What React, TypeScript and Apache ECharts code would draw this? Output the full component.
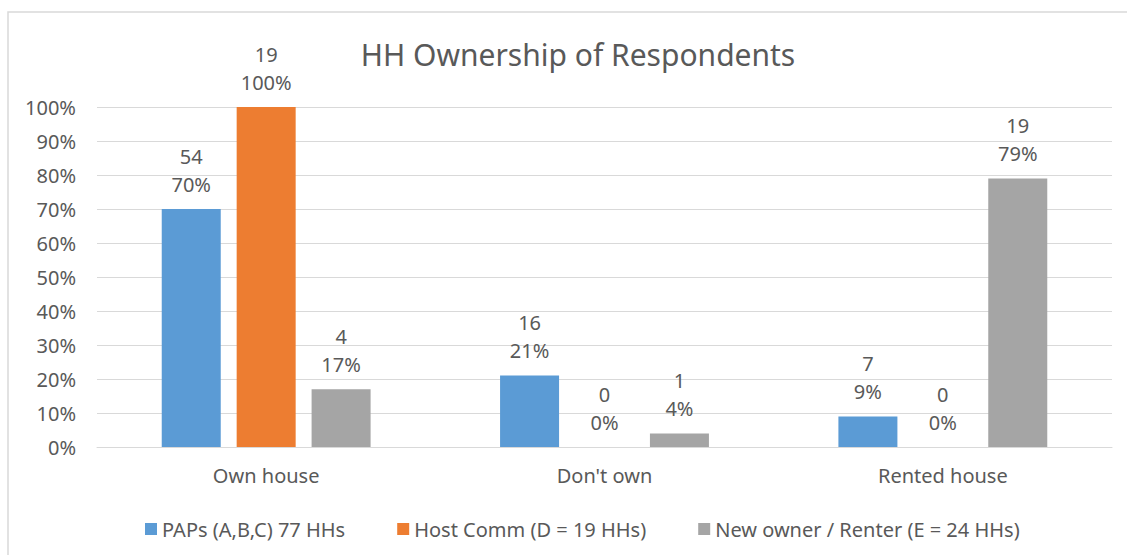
import React, { useEffect, useRef } from "react";
import * as echarts from "echarts";

const categories = ["Own house", "Don't own", "Rented house"];
const seriesNames = [
  "PAPs (A,B,C) 77 HHs",
  "Host Comm (D = 19 HHs)",
  "New owner / Renter (E = 24 HHs)",
];
const papsPct = [70, 21, 9];
const papsCount = [54, 16, 7];
const hostPct = [100, 0, 0];
const hostCount = [19, 0, 0];
const renterPct = [17, 4, 79];
const renterCount = [4, 1, 19];
const colors = ["#5B9BD5", "#ED7D31", "#A5A5A5"];

const FONT = "Noto Sans";
const TEXT = "#595959";

export default function App() {
  const ref = useRef<HTMLDivElement>(null);
  useEffect(() => {
    document.body.style.margin = "0";
    const chart = echarts.init(ref.current!, null, { renderer: "svg" });
    const pcts = [papsPct, hostPct, renterPct];
    const counts = [papsCount, hostCount, renterCount];
    chart.setOption({
      animation: false,
      backgroundColor: "#ffffff",
      textStyle: { fontFamily: FONT, color: TEXT },
      graphic: [
        {
          type: "rect",
          shape: { x: 8, y: 12, width: 1140, height: 570 },
          style: { fill: "none", stroke: "#D9D9D9", lineWidth: 1.5 },
          silent: true,
          z: -1,
        },
      ],
      title: {
        text: "HH Ownership of Respondents",
        left: 573,
        top: 34,
        textAlign: "center",
        textStyle: { fontFamily: FONT, fontSize: 30, fontWeight: "normal", color: TEXT },
      },
      grid: { left: 97, right: 15, top: 107, bottom: 108, containLabel: false },
      legend: {
        top: 514,
        left: 140,
        itemWidth: 12,
        itemHeight: 12,
        itemGap: 52,
        icon: "rect",
        textStyle: { fontFamily: FONT, fontSize: 20, color: TEXT },
        data: seriesNames,
      },
      xAxis: {
        type: "category",
        data: categories,
        axisLine: { lineStyle: { color: "#D9D9D9", width: 1 } },
        axisTick: { show: false },
        axisLabel: { fontFamily: FONT, fontSize: 20, color: TEXT, margin: 18 },
      },
      yAxis: {
        type: "value",
        min: 0,
        max: 100,
        interval: 10,
        axisLine: { show: false },
        axisTick: { show: false },
        splitLine: { lineStyle: { color: "#D9D9D9", width: 1 } },
        axisLabel: {
          fontFamily: FONT,
          fontSize: 20,
          color: TEXT,
          margin: 21,
          formatter: (v: number) => `${v}%`,
        },
      },
      series: seriesNames.map((name, s) => ({
        name,
        type: "bar",
        data: pcts[s],
        barWidth: 59,
        barGap: "27%",
        itemStyle: { color: colors[s] },
        label: {
          show: true,
          position: "top",
          distance: 11,
          fontFamily: FONT,
          fontSize: 20,
          lineHeight: 28,
          color: TEXT,
          formatter: (p: any) => `${counts[s][p.dataIndex]}\n${p.value}%`,
        },
      })),
    });
    return () => chart.dispose();
  }, []);
  return <div ref={ref} style={{ width: 1127, height: 555 }} />;
}
